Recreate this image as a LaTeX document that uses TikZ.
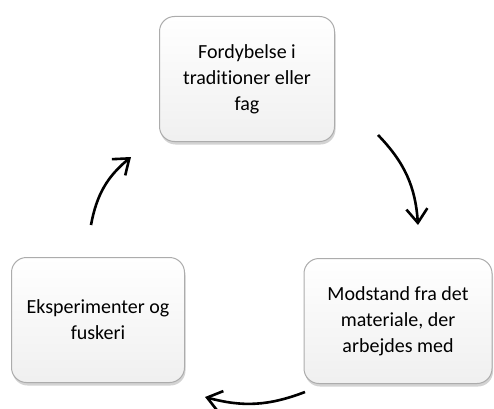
\documentclass[tikz,border=0pt]{standalone}
\usepackage{fontspec}
\setmainfont[Ligatures=NoCommon]{Carlito}
\usepackage{tikz}
\usetikzlibrary{arrows.meta,shadows}

\begin{document}
\begin{tikzpicture}[x=1pt,y=1pt,font=\fontsize{20}{26}\selectfont,
  felt/.style={draw=gray!65,line width=1pt,rounded corners=15pt,align=center,
    top color=white,bottom color=gray!12,
    drop shadow={shadow xshift=1pt,shadow yshift=-3pt,opacity=0.35,fill=gray}},
  pil/.style={line width=2.6pt,-{Straight Barb[length=14pt,width=21pt]}}]
\useasboundingbox (0,0) rectangle (494,408);
\node[felt,minimum width=175,minimum height=125] (fag) at (247,329) {Fordybelse i\\traditioner eller\\fag};
\node[felt,minimum width=188,minimum height=125] (modstand) at (398,87) {Modstand fra det\\materiale, der\\arbejdes med};
\node[felt,minimum width=173,minimum height=125] (fusk) at (98,88) {Eksperimenter og\\fuskeri};
\coordinate (a1) at (91,183);
\coordinate (a2) at (131,251);
\coordinate (b1) at (378,273);
\coordinate (b2) at (418,183);
\coordinate (c1) at (305,16);
\coordinate (c2) at (205,11);
\draw[pil] (a1) to[bend left=20] (a2);
\draw[pil] (b1) to[bend left=20] (b2);
\draw[pil] (c1) to[bend left=18] (c2);
\end{tikzpicture}
\end{document}
